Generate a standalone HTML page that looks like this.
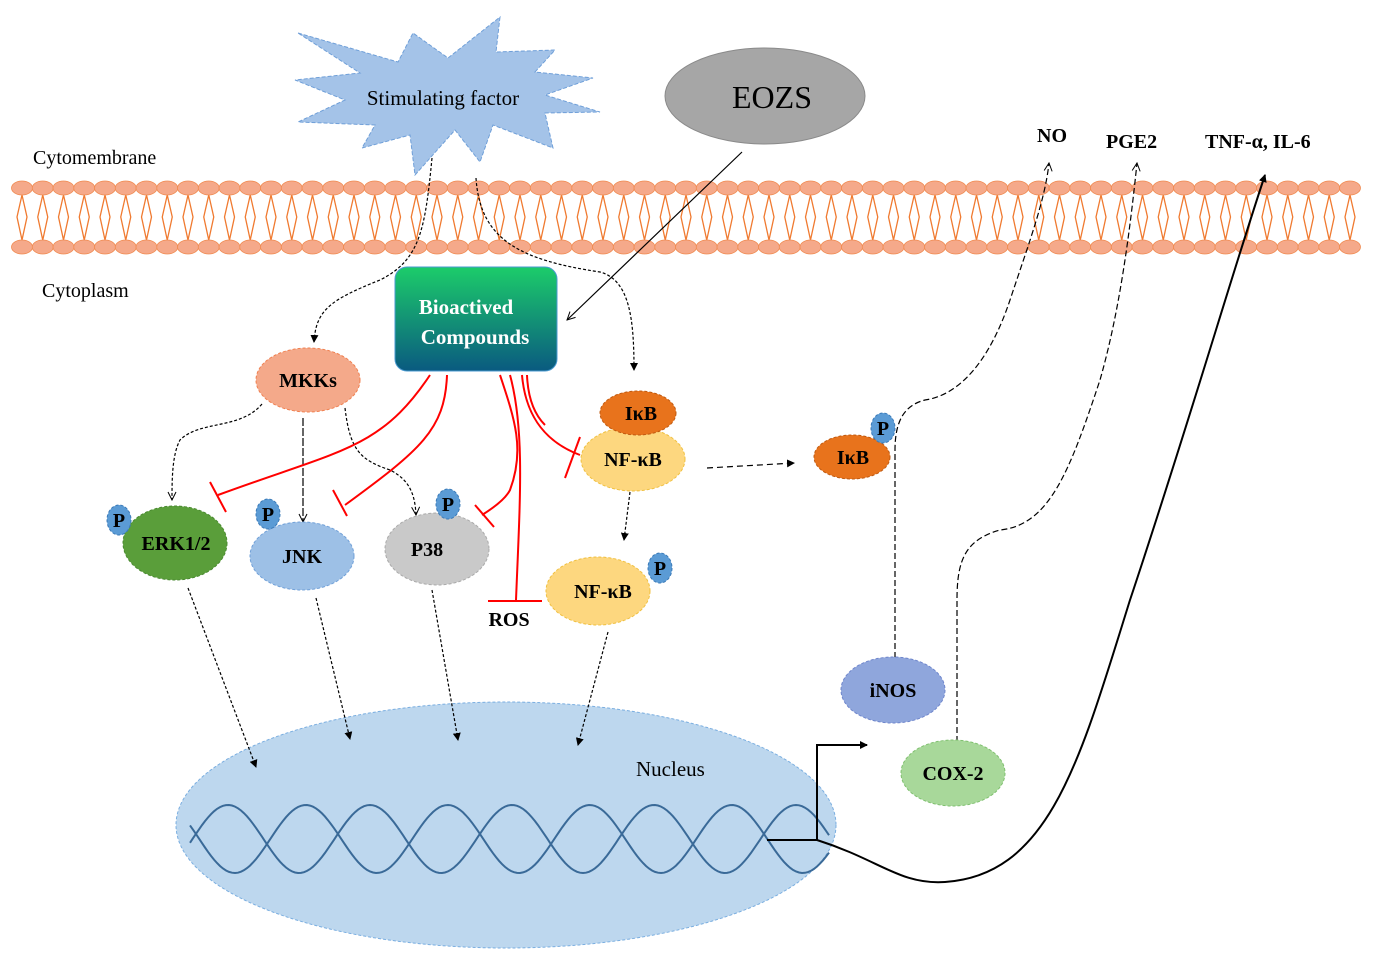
<!DOCTYPE html>
<html><head><meta charset="utf-8"><style>
body{margin:0;background:#fff;width:1379px;height:967px;overflow:hidden}
svg{display:block}
text{font-family:"Liberation Serif",serif}
.b{font-weight:bold}
</style></head><body>
<svg id="s" width="1379" height="967" viewBox="0 0 1379 967" xmlns="http://www.w3.org/2000/svg">
<defs>
<linearGradient id="g1" x1="0" y1="0" x2="0" y2="1"><stop offset="0" stop-color="#1ccc6a"/><stop offset="1" stop-color="#0a5a80"/></linearGradient>
<marker id="a" markerWidth="8" markerHeight="8" refX="7" refY="4" orient="auto" markerUnits="userSpaceOnUse"><path d="M0,0 L8,4 L0,8 z" fill="#000"/></marker>
<marker id="o" markerWidth="10" markerHeight="10" refX="9" refY="5" orient="auto" markerUnits="userSpaceOnUse"><path d="M1,1 L9,5 L1,9" fill="none" stroke="#000"/></marker>
</defs>
<g id="mem"></g>
<polygon points="298,33 398,62 413,33 448,58 500,17 496,52 555,50 535,72 593,78 545,95 600,112 545,113 553,148 493,125 480,162 455,130 415,175 410,135 362,148 375,125 298,122 345,100 295,80 360,73" fill="#a4c3e8" stroke="#6f9fd8" stroke-dasharray="4,2"/>
<text x="443" y="105" font-size="21" text-anchor="middle">Stimulating factor</text>
<ellipse cx="765" cy="96" rx="100" ry="48" fill="#a6a6a6" stroke="#8a8a8a"/>
<text x="772" y="108" font-size="32" text-anchor="middle">EOZS</text>
<text x="33" y="164" font-size="20">Cytomembrane</text>
<text x="42" y="297" font-size="20">Cytoplasm</text>
<text x="1037" y="142" font-size="20" class="b">NO</text>
<text x="1106" y="148" font-size="20" class="b">PGE2</text>
<text x="1205" y="148" font-size="20" class="b">TNF-α,  IL-6</text>
<ellipse cx="506" cy="825" rx="330" ry="123" fill="#bdd7ee" stroke="#7aaee0" stroke-dasharray="3,2"/>
<g id="dna" fill="none" stroke="#3a6a98" stroke-width="2"></g>
<text x="636" y="776" font-size="21">Nucleus</text>
<g fill="none" stroke="#000" stroke-width="1.2">
<path d="M432,158 C425,230 420,260 380,280 C330,300 316,310 314,342" stroke-dasharray="3,2" marker-end="url(#a)"/>
<path d="M476,178 C480,240 520,260 600,272 C630,280 634,320 634,370" stroke-dasharray="3,2" marker-end="url(#a)"/>
<path d="M742,152 L567,320" marker-end="url(#o)"/>
<path d="M262,404 C240,430 200,420 180,440 C172,455 172,480 172,500" stroke-dasharray="3,2" marker-end="url(#o)"/>
<path d="M303,418 L303,522" stroke-dasharray="8,2" marker-end="url(#o)"/>
<path d="M345,408 C350,450 360,460 390,470 C410,480 415,495 416,515" stroke-dasharray="3,2" marker-end="url(#o)"/>
<path d="M630,492 L624,540" stroke-dasharray="3,2" marker-end="url(#a)"/>
<path d="M707,468 L794,463" stroke-dasharray="6,4" marker-end="url(#a)"/>
<path d="M188,588 L256,767" stroke-dasharray="3,2" marker-end="url(#a)"/>
<path d="M316,598 L350,739" stroke-dasharray="3,2" marker-end="url(#a)"/>
<path d="M432,590 L458,740" stroke-dasharray="3,2" marker-end="url(#a)"/>
<path d="M608,632 L578,745" stroke-dasharray="3,2" marker-end="url(#a)"/>
<path d="M767,840 L817,840 L817,745 L867,745" stroke-width="2" marker-end="url(#a)"/>
<path d="M817,840 C880,860 900,885 945,882 C1050,875 1080,760 1130,600 C1190,420 1230,280 1265,175" stroke-width="2" marker-end="url(#a)"/>
<path d="M895,658 L895,450 C895,420 905,405 925,400 C960,395 990,360 1010,300 C1030,240 1045,200 1049,163" stroke-dasharray="6,3" marker-end="url(#o)"/>
<path d="M957,742 L957,600 C957,560 965,540 1000,530 C1050,525 1070,470 1100,380 C1120,310 1130,230 1137,163" stroke-dasharray="6,3" marker-end="url(#o)"/>
</g>
<g fill="none" stroke="#ff0000" stroke-width="2">
<path d="M430,375 C380,450 340,450 218,495"/><path d="M210,482 L226,512" />
<path d="M447,375 C445,430 420,450 345,505"/><path d="M333,490 L347,516"/>
<path d="M500,375 C515,420 525,450 510,490 C505,500 490,510 482,515"/><path d="M475,505 L494,527"/>
<path d="M510,375 C525,430 520,500 516,600"/><path d="M488,601 L542,601"/>
<path d="M522,375 C525,410 540,440 580,455"/><path d="M580,437 L565,478"/>
<path d="M527,375 C528,400 535,415 545,425"/>
</g>
<rect x="395" y="267" width="162" height="104" rx="12" fill="url(#g1)" stroke="#4a9ad0"/>
<text x="466" y="314" font-size="21" class="b" fill="#fff" text-anchor="middle">Bioactived</text>
<text x="475" y="344" font-size="21" class="b" fill="#fff" text-anchor="middle">Compounds</text>
<g stroke-dasharray="3,2" stroke-width="1">
<ellipse cx="308" cy="380" rx="52" ry="32" fill="#f4a98a" stroke="#f08050"/>
<ellipse cx="175" cy="543" rx="52" ry="37" fill="#5a9e3a" stroke="#4a8a30"/>
<ellipse cx="302" cy="556" rx="52" ry="34" fill="#9dc0e6" stroke="#70a0d8"/>
<ellipse cx="437" cy="549" rx="52" ry="36" fill="#c9c9c9" stroke="#aaa"/>
<ellipse cx="633" cy="459" rx="52" ry="32" fill="#fdd77f" stroke="#f0c040"/>
<ellipse cx="638" cy="413" rx="38" ry="22" fill="#e8731c" stroke="#c05a10"/>
<ellipse cx="598" cy="591" rx="52" ry="34" fill="#fdd77f" stroke="#f0c040"/>
<ellipse cx="852" cy="457" rx="38" ry="22" fill="#e8731c" stroke="#c05a10"/>
<ellipse cx="893" cy="690" rx="52" ry="33" fill="#8fa6dc" stroke="#6f86cc"/>
<ellipse cx="953" cy="773" rx="52" ry="33" fill="#a8d89a" stroke="#80c070"/>
<ellipse cx="119" cy="520" rx="12" ry="15" fill="#5b9bd5" stroke="#3a7ab8"/>
<ellipse cx="268" cy="514" rx="12" ry="15" fill="#5b9bd5" stroke="#3a7ab8"/>
<ellipse cx="448" cy="504" rx="12" ry="15" fill="#5b9bd5" stroke="#3a7ab8"/>
<ellipse cx="660" cy="568" rx="12" ry="15" fill="#5b9bd5" stroke="#3a7ab8"/>
<ellipse cx="883" cy="428" rx="12" ry="15" fill="#5b9bd5" stroke="#3a7ab8"/>
</g>
<g class="b" font-size="20" text-anchor="middle" font-weight="bold">
<text x="308" y="387">MKKs</text>
<text x="176" y="550">ERK1/2</text>
<text x="302" y="563">JNK</text>
<text x="427" y="556">P38</text>
<text x="633" y="466">NF-κB</text>
<text x="641" y="420">IκB</text>
<text x="603" y="598">NF-κB</text>
<text x="853" y="464">IκB</text>
<text x="893" y="697">iNOS</text>
<text x="953" y="780">COX-2</text>
<text x="509" y="626">ROS</text>
<text x="119" y="527">P</text><text x="268" y="521">P</text><text x="448" y="511">P</text><text x="660" y="575">P</text><text x="883" y="435">P</text>
</g>
</svg>
<script>
var m=document.getElementById("mem"),h="";
for(var x=22;x<1370;x+=20.75){
 h+='<path d="M'+x+',195 L'+(x-5)+',217 L'+x+',240 M'+x+',195 L'+(x+5)+',217 L'+x+',240" fill="none" stroke="#f07a30" stroke-width="1.3"/>';
 h+='<ellipse cx="'+x+'" cy="188" rx="10.5" ry="7" fill="#f5a98a" stroke="#f08a50" stroke-width="0.8"/>';
 h+='<ellipse cx="'+x+'" cy="247" rx="10.5" ry="7" fill="#f5a98a" stroke="#f08a50" stroke-width="0.8"/>';
}
m.innerHTML=h;
var d=document.getElementById("dna"),p1="",p2="";
for(var x=190;x<=830;x+=3){
 var t=(x-228)/142*2*Math.PI+Math.PI/2;
 var y1=839-34*Math.sin(t);
 var y2=839+34*Math.sin(t-0.3);
 p1+=(x==190?"M":"L")+x+","+y1.toFixed(1);
 p2+=(x==190?"M":"L")+x+","+y2.toFixed(1);
}
d.innerHTML='<path d="'+p1+'"/><path d="'+p2+'"/>';
</script>
</body></html>
